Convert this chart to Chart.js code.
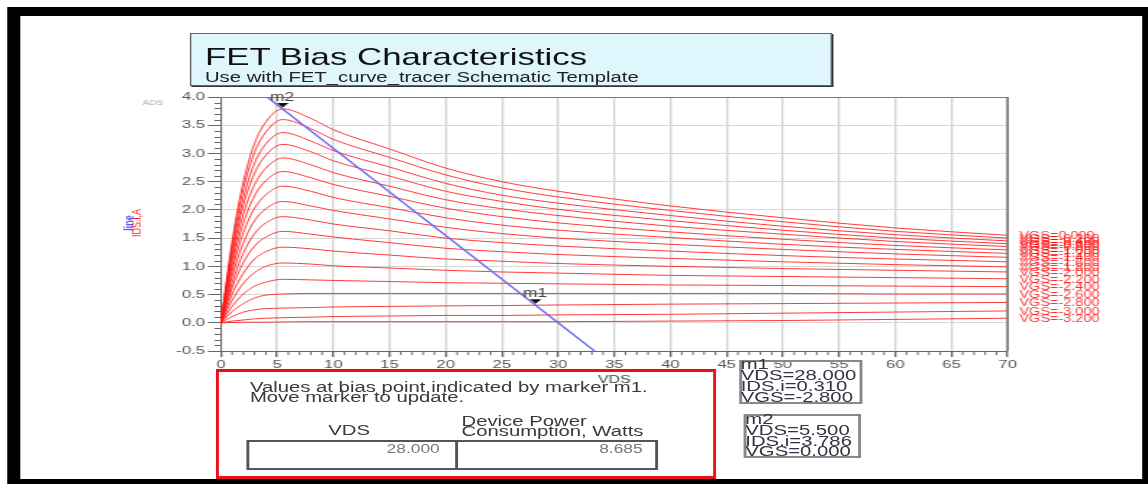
<!DOCTYPE html>
<html><head><meta charset="utf-8">
<script src="https://cdn.jsdelivr.net/npm/chart.js@4.4.0/dist/chart.umd.min.js"></script>
<style>
html,body{margin:0;padding:0;background:#fff;overflow:hidden;width:1148px;height:484px;}
#wrap{position:absolute;left:0;top:0;width:792px;height:484px;transform:scaleX(1.4495);transform-origin:0 0;font-family:'Liberation Sans',Arial,sans-serif;}
#c{position:absolute;left:0;top:0;}
.abs{position:absolute;white-space:nowrap;}
#frame{position:absolute;left:4.8px;top:7px;width:787.2px;height:477px;box-sizing:border-box;border-top:9px solid #000;border-left:9px solid #000;border-right:4.5px solid #000;border-bottom:5px solid #000;}
#titlebox{position:absolute;left:131px;top:33px;width:442.8px;height:53px;box-sizing:border-box;background:#dff6fc;border:1px solid #666;box-shadow:1px 1px 0 #333;}
.t{position:absolute;white-space:nowrap;color:#111;}
#redbox{position:absolute;left:149.4px;top:369px;width:344.4px;height:110px;box-sizing:border-box;border-top:3px solid #ea1019;border-bottom:3px solid #ea1019;border-left:2.7px solid #ea1019;border-right:2.7px solid #ea1019;}
.rt{position:absolute;white-space:nowrap;font-size:14px;line-height:14px;color:#3a3a3a;}
#tbl{position:absolute;left:169.7px;top:440px;width:284.8px;height:30px;box-sizing:border-box;border:2px solid #555;}
#tdiv{position:absolute;left:142.6px;top:0;width:2px;height:26px;background:#555;}
.num{position:absolute;white-space:nowrap;font-size:12px;line-height:12px;color:#777;text-align:right;}
.mbox{position:absolute;box-sizing:border-box;border:2px solid #888;}
.ml{position:absolute;white-space:nowrap;font-size:14px;line-height:14px;color:#333344;}
</style></head>
<body>
<div id="wrap">
<canvas id="c" width="792" height="484"></canvas>
<div id="frame"></div>
<div id="titlebox">
  <div class="t" style="left:9.4px;top:10.7px;font-size:24px;line-height:24px;">FET Bias Characteristics</div>
  <div class="t" style="left:9.4px;top:36.2px;font-size:14px;line-height:14px;color:#222;">Use with FET_curve_tracer Schematic Template</div>
</div>
<div id="redbox"></div>
<div class="rt" style="left:172.4px;top:379.6px;">Values at bias point indicated by marker m1.</div>
<div class="rt" style="left:172.4px;top:390.2px;">Move marker to update.</div>
<div class="rt" style="left:226.5px;top:422.6px;">VDS</div>
<div class="rt" style="left:318.4px;top:413.6px;">Device Power</div>
<div class="rt" style="left:318.4px;top:423.6px;">Consumption, Watts</div>
<div id="tbl"><div id="tdiv"></div></div>
<div class="num" style="left:250px;top:442.8px;width:53.4px;">28.000</div>
<div class="num" style="left:390px;top:442.8px;width:53.4px;">8.685</div>
<div class="mbox" style="left:509.9px;top:360px;width:85.1px;height:44px;"></div>
<div class="ml" style="left:511px;top:357.2px;">m1</div>
<div class="ml" style="left:511px;top:368.2px;">VDS=28.000</div>
<div class="ml" style="left:511px;top:379.2px;">IDS.i=0.310</div>
<div class="ml" style="left:511px;top:389.9px;">VGS=-2.800</div>
<div class="mbox" style="left:513.1px;top:414px;width:80.5px;height:44.3px;"></div>
<div class="ml" style="left:514.2px;top:412.2px;">m2</div>
<div class="ml" style="left:514.2px;top:423.2px;">VDS=5.500</div>
<div class="ml" style="left:514.2px;top:434.2px;">IDS.i=3.786</div>
<div class="ml" style="left:514.2px;top:444.2px;">VGS=0.000</div>
</div>
<script>
// ---- data ----
const vdsSweep = [0, 1, 2, 3, 4, 5.5, 8, 10, 15, 20, 25, 30, 40, 50, 60, 70];
const vgsSteps = ['0.000','-0.200','-0.400','-0.600','-0.800','-1.000','-1.200','-1.400','-1.600','-1.800','-2.000','-2.200','-2.400','-2.600','-2.800','-3.000','-3.200'];
const idsVgs0p0  = [0, 1.44, 2.50, 3.18, 3.56, 3.79, 3.62, 3.42, 3.08, 2.74, 2.50, 2.33, 2.07, 1.86, 1.68, 1.55];
const idsVgsM0p2 = [0, 1.37, 2.38, 3.02, 3.38, 3.60, 3.44, 3.25, 2.93, 2.62, 2.39, 2.23, 1.99, 1.79, 1.62, 1.50];
const idsVgsM0p4 = [0, 1.28, 2.22, 2.83, 3.17, 3.37, 3.22, 3.05, 2.76, 2.47, 2.26, 2.12, 1.90, 1.71, 1.56, 1.45];
const idsVgsM0p6 = [0, 1.20, 2.09, 2.65, 2.97, 3.16, 3.03, 2.87, 2.60, 2.33, 2.15, 2.01, 1.81, 1.64, 1.50, 1.40];
const idsVgsM0p8 = [0, 1.11, 1.93, 2.45, 2.74, 2.92, 2.80, 2.66, 2.42, 2.18, 2.02, 1.90, 1.71, 1.57, 1.44, 1.35];
const idsVgsM1p0 = [0, 1.02, 1.77, 2.25, 2.52, 2.68, 2.57, 2.45, 2.24, 2.03, 1.88, 1.77, 1.61, 1.48, 1.37, 1.29];
const idsVgsM1p2 = [0, 0.92, 1.60, 2.03, 2.27, 2.42, 2.33, 2.22, 2.04, 1.86, 1.73, 1.64, 1.51, 1.39, 1.30, 1.23];
const idsVgsM1p4 = [0, 0.82, 1.42, 1.81, 2.02, 2.15, 2.07, 1.99, 1.84, 1.69, 1.58, 1.50, 1.39, 1.30, 1.22, 1.16];
const idsVgsM1p6 = [0, 0.71, 1.24, 1.58, 1.77, 1.88, 1.82, 1.75, 1.63, 1.50, 1.42, 1.36, 1.27, 1.19, 1.13, 1.08];
const idsVgsM1p8 = [0, 0.62, 1.07, 1.36, 1.52, 1.62, 1.57, 1.52, 1.42, 1.32, 1.26, 1.21, 1.14, 1.08, 1.03, 0.99];
const idsVgsM2p0 = [0, 0.51, 0.88, 1.13, 1.26, 1.34, 1.31, 1.27, 1.20, 1.13, 1.09, 1.05, 1.00, 0.96, 0.93, 0.90];
const idsVgsM2p2 = [0, 0.40, 0.70, 0.89, 1.00, 1.06, 1.04, 1.01, 0.97, 0.93, 0.90, 0.88, 0.84, 0.82, 0.80, 0.78];
const idsVgsM2p4 = [0, 0.29, 0.51, 0.65, 0.72, 0.77, 0.76, 0.75, 0.73, 0.71, 0.70, 0.69, 0.67, 0.66, 0.65, 0.64];
const idsVgsM2p6 = [0, 0.20, 0.34, 0.44, 0.49, 0.51, 0.52, 0.52, 0.52, 0.52, 0.52, 0.52, 0.52, 0.52, 0.51, 0.51];
const idsVgsM2p8 = [0, 0.11, 0.19, 0.23, 0.25, 0.26, 0.27, 0.28, 0.29, 0.30, 0.305, 0.315, 0.33, 0.34, 0.35, 0.36];
const idsVgsM3p0 = [0, 0.03, 0.05, 0.07, 0.08, 0.09, 0.10, 0.11, 0.12, 0.13, 0.13, 0.14, 0.15, 0.17, 0.19, 0.21];
const idsVgsM3p2 = [0, 0.005, 0.01, 0.01, 0.01, 0.015, 0.02, 0.02, 0.02, 0.02, 0.02, 0.02, 0.03, 0.04, 0.06, 0.08];
const idsCurves = [idsVgs0p0, idsVgsM0p2, idsVgsM0p4, idsVgsM0p6, idsVgsM0p8, idsVgsM1p0, idsVgsM1p2, idsVgsM1p4,
  idsVgsM1p6, idsVgsM1p8, idsVgsM2p0, idsVgsM2p2, idsVgsM2p4, idsVgsM2p6, idsVgsM2p8, idsVgsM3p0, idsVgsM3p2];
const loadLineVds = [4.11, 33.24];
const loadLineIds = [4.0, -0.5];
const markerNames = ['m1', 'm2'];
const markerVds = [28.0, 5.5];
const markerIds = [0.310, 3.786];
const xTickStep = 5, yTickStep = 0.5;

const FONT = "'Liberation Sans', Arial, sans-serif";

const datasets = [{
  label: 'line',
  data: loadLineVds.map((v, i) => ({x: v, y: loadLineIds[i]})),
  showLine: true, borderColor: '#6a6af2', borderWidth: 1.4, pointRadius: 0
}];
idsCurves.forEach((arr, k) => {
  datasets.push({
    label: 'VGS=' + vgsSteps[k],
    data: vdsSweep.map((v, j) => ({x: v, y: arr[j]})),
    showLine: true, borderColor: 'rgba(255,25,25,0.85)', borderWidth: 1, pointRadius: 0,
    cubicInterpolationMode: 'monotone'
  });
});

const extras = {
  id: 'extras',
  afterDatasetsDraw(chart) {
    const {ctx, chartArea: a, scales: {x, y}} = chart;
    ctx.save();
    // frame top / right
    ctx.strokeStyle = '#7a7a7a';
    ctx.lineWidth = 1;
    ctx.beginPath(); ctx.moveTo(a.left, a.top + 0.5); ctx.lineTo(a.right, a.top + 0.5); ctx.stroke();
    ctx.lineWidth = 1.6;
    ctx.beginPath(); ctx.moveTo(a.right, a.top); ctx.lineTo(a.right, a.bottom); ctx.stroke();
    // minor ticks
    ctx.strokeStyle = '#666'; ctx.lineWidth = 1;
    ctx.beginPath();
    for (let i = -5; i <= 40; i++) {
      if (i % 5 === 0) continue;
      const py = Math.round(y.getPixelForValue(i / 10)) + 0.5;
      ctx.moveTo(a.left - 4.5, py); ctx.lineTo(a.left, py);
    }
    for (let i = 1; i < 70; i++) {
      if (i % 5 === 0) continue;
      const px = x.getPixelForValue(i);
      ctx.moveTo(px, a.bottom); ctx.lineTo(px, a.bottom + 4);
    }
    ctx.stroke();
    // markers
    markerNames.forEach((n, i) => {
      const px = x.getPixelForValue(markerVds[i]);
      const py = y.getPixelForValue(markerIds[i]);
      ctx.fillStyle = '#111';
      ctx.beginPath();
      ctx.moveTo(px - 4, py - 6); ctx.lineTo(px + 4, py - 6); ctx.lineTo(px, py - 1.5);
      ctx.closePath(); ctx.fill();
      ctx.fillStyle = '#444';
      ctx.font = '12px ' + FONT;
      ctx.textAlign = 'center'; ctx.textBaseline = 'middle';
      ctx.fillText(n, px - 0.5, py - 11.5);
    });
    // VGS labels at the end of each curve
    ctx.font = '10px ' + FONT;
    ctx.fillStyle = 'rgba(255,0,0,0.8)';
    ctx.textAlign = 'left'; ctx.textBaseline = 'middle';
    idsCurves.forEach((arr, k) => {
      const py = y.getPixelForValue(arr[arr.length - 1]);
      ctx.fillText('VGS=' + vgsSteps[k], a.right + 8, py + 1);
    });
    // y-axis titles
    ctx.textAlign = 'center'; ctx.textBaseline = 'middle';
    ctx.save(); ctx.translate(89.7, 223); ctx.rotate(-Math.PI / 2);
    ctx.font = 'bold 9px ' + FONT; ctx.fillStyle = '#5050ff'; ctx.fillText('line', 0, 0); ctx.restore();
    ctx.save(); ctx.translate(94.6, 223); ctx.rotate(-Math.PI / 2);
    ctx.font = '9px ' + FONT; ctx.fillStyle = '#ff2020'; ctx.fillText('IDS.i,A', 0, 0); ctx.restore();
    // ADS tag
    ctx.font = '7px ' + FONT; ctx.fillStyle = '#aaa';
    ctx.fillText('ADS', 105.5, 103.5);
    ctx.restore();
  }
};

new Chart(document.getElementById('c'), {
  type: 'scatter',
  data: {datasets},
  options: {
    responsive: false, animation: false, devicePixelRatio: 1,
    layout: {padding: {left: 0, top: 97, right: 96.8, bottom: 97.4}},
    plugins: {legend: {display: false}, tooltip: {enabled: false}},
    scales: {
      x: {
        type: 'linear', min: 0, max: 70,
        ticks: {stepSize: xTickStep, font: {family: FONT, size: 11.5}, color: '#555', padding: 1, maxRotation: 0, autoSkip: false},
        grid: {color: '#d2d2d2', lineWidth: 1.4, tickColor: '#666', tickLength: 6},
        border: {color: '#666', width: 1},
        title: {display: true, text: 'VDS', font: {family: FONT, size: 11}, color: '#444', padding: 0},
        afterFit: s => { s.height = 35.6; }
      },
      y: {
        type: 'linear', min: -0.5, max: 4.0,
        ticks: {stepSize: yTickStep, font: {family: FONT, size: 11.5}, color: '#555', padding: 2, callback: v => Number(v).toFixed(1)},
        grid: {color: '#d8d8d8', lineWidth: 1, tickColor: '#666', tickLength: 9},
        border: {color: '#666', width: 1},
        afterFit: s => { s.width = 152.4; }
      }
    }
  },
  plugins: [extras]
});
</script>
</body></html>
